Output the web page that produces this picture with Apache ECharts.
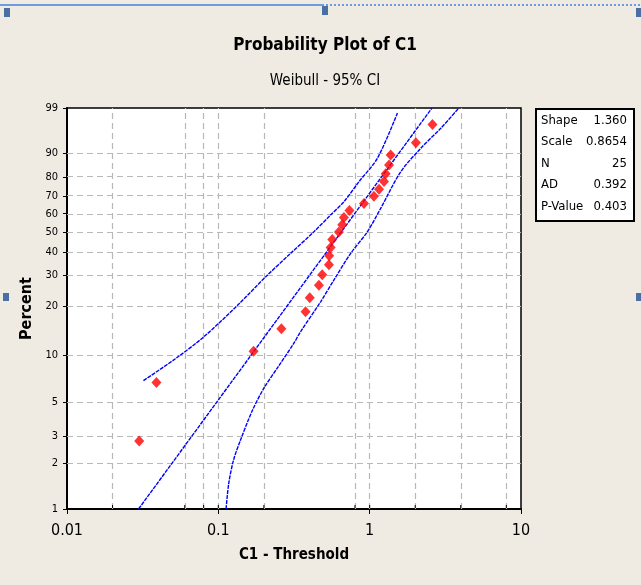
<!DOCTYPE html>
<html>
<head>
<meta charset="utf-8">
<script src="https://cdn.jsdelivr.net/npm/echarts@6/dist/echarts.min.js"></script>
<style>
  html, body { margin: 0; background: #efebe2; }
  #chart { width: 641px; height: 585px; }
</style>
</head>
<body>
<div id="chart"></div>
<script>
const xTicks = [0.01, 0.1, 1, 10];
const xMinor = [0.02, 0.06, 0.08, 0.1, 0.2, 0.8, 1, 2, 4, 8];
const yTicks = [1, 2, 3, 5, 10, 20, 30, 40, 50, 60, 70, 80, 90, 99];

const obsX = [0.030, 0.039, 0.171, 0.261, 0.377, 0.402, 0.462, 0.486, 0.538, 0.540, 0.552, 0.566, 0.626,
  0.659, 0.676, 0.735, 0.917, 1.067, 1.153, 1.244, 1.276, 1.343, 1.377, 2.02, 2.60];
const obsPct = [2.8, 6.7, 10.6, 14.6, 18.5, 22.4, 26.4, 30.3, 34.3, 38.2, 42.1, 46.1, 50.0,
  53.9, 57.9, 61.8, 65.7, 69.7, 73.6, 77.6, 81.5, 85.4, 89.4, 93.3, 97.2];

const fitX = [0.0297, 2.58];
const fitPct = [1, 99];

const upperX = [0.032, 0.052, 0.080, 0.136, 0.205, 0.300, 0.428, 0.551, 0.676, 0.849, 1.125, 1.526];
const upperPct = [6.9, 9.5, 13.0, 20.5, 29.4, 39.3, 50.1, 59.2, 66.7, 77.5, 88.2, 98.6];

const lowerX = [0.1125, 0.117, 0.126, 0.140, 0.167, 0.200, 0.250, 0.315, 0.349, 0.474, 0.580, 0.749,
  0.966, 1.183, 1.604, 2.176, 2.953, 3.886];
const lowerPct = [1, 1.46, 2.1, 2.83, 4.38, 6.17, 8.52, 11.85, 13.98, 21.2, 28.25, 39.3,
  50.1, 63.0, 82.4, 91.7, 96.6, 99];

const statNames = ['Shape', 'Scale', 'N', 'AD', 'P-Value'];
const statValues = ['1.360', '0.8654', '25', '0.392', '0.403'];

// weibull probability scale: ln(-ln(1-p))
const wb = p => Math.log(-Math.log(1 - p / 100));
const pairs = (xs, ps) => xs.map((x, i) => [x, wb(ps[i])]);
const yMin = wb(yTicks[0]);
const yMax = wb(yTicks[yTicks.length - 1]);

const FONT = '"Liberation Sans Narrow", "DejaVu Sans Condensed", sans-serif';
const bandLine = { color: '#0000ff', width: 1.4, type: [4, 1] };

const chart = echarts.init(document.getElementById('chart'));

const statItems = [];
statNames.forEach((name, i) => {
  statItems.push({
    type: 'text', left: 6, top: 6 + i * 21.5,
    style: { text: name, font: '13px ' + FONT, fill: '#000' }
  });
  statItems.push({
    type: 'text', right: 6, top: 6 + i * 21.5,
    style: { text: statValues[i], font: '13px ' + FONT, fill: '#000', textAlign: 'right' }
  });
});

const option = {
  animation: false,
  backgroundColor: '#efebe2',
  grid: {
    left: 67, right: 120, top: 108, bottom: 76,
    show: true, backgroundColor: '#fff', borderColor: '#000', borderWidth: 1.5
  },
  xAxis: {
    type: 'log', logBase: 10, min: xTicks[0], max: xTicks[xTicks.length - 1],
    axisLine: { onZero: false, lineStyle: { color: '#000', width: 2 } },
    axisTick: { length: 5, lineStyle: { color: '#000', width: 1 } },
    axisLabel: {
      color: '#000', fontSize: 16, fontFamily: FONT, margin: 14,
      formatter: v => String(+v.toPrecision(3))
    },
    splitLine: { show: false },
    name: 'C1 - Threshold', nameLocation: 'middle', nameGap: 39,
    nameTextStyle: { color: '#000', fontSize: 15, fontWeight: 'bold', fontFamily: FONT }
  },
  yAxis: {
    type: 'value', min: yMin, max: yMax,
    axisLine: { onZero: false, lineStyle: { color: '#000', width: 2 } },
    axisTick: { customValues: yTicks.map(wb), length: 4, lineStyle: { color: '#000' } },
    axisLabel: {
      customValues: yTicks.map(wb), color: '#000', fontSize: 11, fontFamily: FONT, margin: 9,
      formatter: v => String(yTicks.find(p => Math.abs(wb(p) - v) < 1e-6))
    },
    splitLine: { show: false },
    name: 'Percent', nameLocation: 'middle', nameGap: 30,
    nameTextStyle: { color: '#000', fontSize: 16, fontWeight: 'bold', fontFamily: FONT }
  },
  graphic: [
    { type: 'text', x: 325, y: 46,
      style: { text: 'Probability Plot of C1', font: 'bold 17px ' + FONT, fill: '#000',
        textAlign: 'center', textVerticalAlign: 'middle' } },
    { type: 'text', x: 325, y: 81,
      style: { text: 'Weibull - 95% CI', font: '15px ' + FONT, fill: '#000',
        textAlign: 'center', textVerticalAlign: 'middle' } },
    { type: 'group', left: 535, top: 108, width: 98, height: 112,
      children: [
        { type: 'rect', left: 0, top: 0, shape: { width: 98, height: 112 },
          style: { fill: '#fff', stroke: '#000', lineWidth: 2 } }
      ].concat(statItems) },
    // selection frame of the original window
    { type: 'line', shape: { x1: 0, y1: 5, x2: 322, y2: 5 }, style: { stroke: '#6b9be0', lineWidth: 2 } },
    { type: 'line', shape: { x1: 322, y1: 5, x2: 641, y2: 5 },
      style: { stroke: '#6b9be0', lineWidth: 2, lineDash: [2, 2] } },
    { type: 'rect', shape: { x: 4, y: 8, width: 6, height: 9 }, style: { fill: '#4a6fa5' } },
    { type: 'rect', shape: { x: 322, y: 6, width: 6, height: 9 }, style: { fill: '#4a6fa5' } },
    { type: 'rect', shape: { x: 636, y: 8, width: 5, height: 9 }, style: { fill: '#4a6fa5' } },
    { type: 'rect', shape: { x: 3, y: 293, width: 6, height: 8 }, style: { fill: '#4a6fa5' } },
    { type: 'rect', shape: { x: 636, y: 293, width: 5, height: 8 }, style: { fill: '#4a6fa5' } }
  ],
  series: [
    {
      name: 'Fit', type: 'line', data: pairs(fitX, fitPct), showSymbol: false,
      lineStyle: bandLine, z: 3, silent: true,
      markLine: {
        silent: true, symbol: 'none', label: { show: false }, z: 1,
        lineStyle: { color: '#b8b8b8', type: [6, 4], width: 1.2 },
        data: xMinor.map(v => ({ xAxis: v }))
          .concat(yTicks.slice(1, -1).map(p => ({ yAxis: wb(p) })))
      }
    },
    {
      name: 'Upper', type: 'line', data: pairs(upperX, upperPct), showSymbol: false,
      smooth: 0.3, lineStyle: bandLine, z: 3, silent: true
    },
    {
      name: 'Lower', type: 'line', data: pairs(lowerX, lowerPct), showSymbol: false,
      smooth: 0.3, lineStyle: bandLine, z: 3, silent: true
    },
    {
      name: 'C1', type: 'scatter', data: pairs(obsX, obsPct),
      symbol: 'diamond', symbolSize: [10, 11], itemStyle: { color: '#ff0000' }, z: 4
    },
    {
      type: 'custom', data: xMinor.map(v => [v, yMin]), clip: false, silent: true, z: 5,
      renderItem: (params, api) => {
        const p = api.coord([api.value(0), api.value(1)]);
        return { type: 'line', shape: { x1: p[0], y1: p[1] - 1, x2: p[0], y2: p[1] - 4 },
          style: { stroke: '#000', lineWidth: 1 } };
      }
    }
  ]
};
chart.setOption(option);
</script>
</body>
</html>
